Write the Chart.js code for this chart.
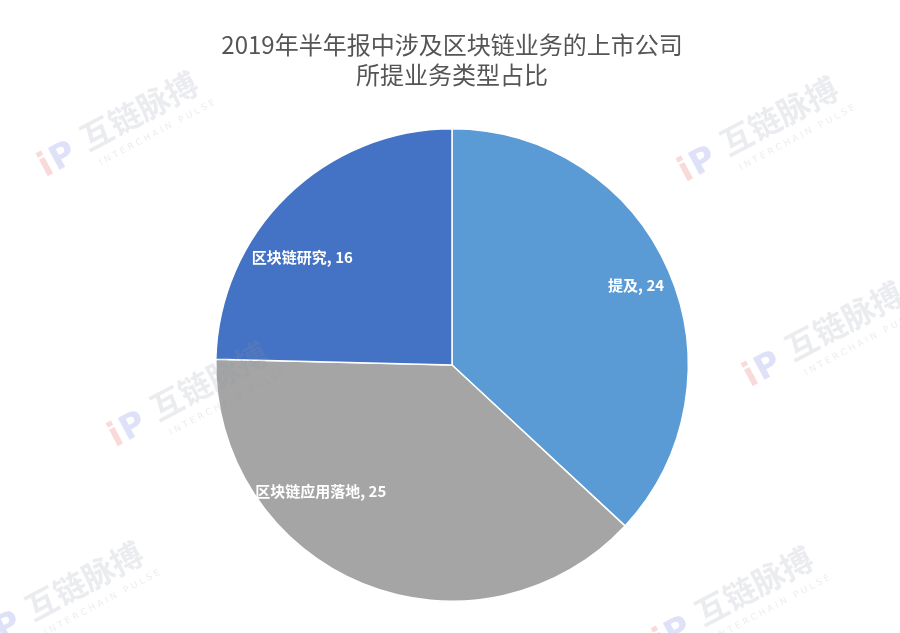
<!DOCTYPE html>
<html>
<head>
<meta charset="utf-8">
<script src="https://cdn.jsdelivr.net/npm/chart.js@4/dist/chart.umd.min.js"></script>
<style>
  html, body { margin: 0; padding: 0; background: #fff; }
  #wrap { width: 900px; height: 633px; }
</style>
</head>
<body>
<div id="wrap"><canvas id="pie"></canvas></div>
<script>
const categories = ["提及", "区块链应用落地", "区块链研究"]
const values = [24, 25, 16]
const sliceColors = ["#5B9BD5", "#A5A5A5", "#4472C4"]

// label placement tweaks (Excel "best fit" look)
const labelShift = [0, 24, -10]
const labelRadius = [0.85, 0.77, 0.78]

// watermark anchor points
const marks = [[125, 125], [765, 130], [830, 335], [195, 395], [70, 595], [740, 600]]

const sliceLabels = {
  id: "sliceLabels",
  afterDatasetsDraw(chart) {
    const ctx = chart.ctx
    const meta = chart.getDatasetMeta(0)
    ctx.save()
    ctx.font = "bold 15px 'Noto Sans CJK SC', sans-serif"
    ctx.fillStyle = "#fff"
    ctx.textAlign = "center"
    ctx.textBaseline = "middle"
    meta.data.forEach((arc, i) => {
      const p = arc.getProps(["x", "y", "startAngle", "endAngle", "outerRadius"], true)
      const a = (p.startAngle + p.endAngle) / 2 + labelShift[i] * Math.PI / 180
      const r = p.outerRadius * labelRadius[i]
      ctx.fillText(categories[i] + ", " + values[i], p.x + Math.cos(a) * r, p.y + Math.sin(a) * r)
    })
    ctx.restore()
  }
}

const watermark = {
  id: "watermark",
  afterDraw(chart) {
    const ctx = chart.ctx
    ctx.save()
    marks.forEach(([x, y]) => {
      ctx.save()
      ctx.translate(x, y)
      ctx.rotate(-28 * Math.PI / 180)
      ctx.globalAlpha = 0.18
      ctx.textBaseline = "middle"
      ctx.font = "bold 34px 'DejaVu Sans', sans-serif"
      ctx.fillStyle = "#e0303a"
      ctx.fillText("i", -95, 0)
      ctx.fillStyle = "#4a5ad0"
      ctx.fillText("P", -82, 0)
      ctx.fillStyle = "#9098a8"
      ctx.font = "bold 32px 'Noto Sans CJK SC', sans-serif"
      ctx.fillText("互链脉搏", -45, -6)
      ctx.font = "9px 'DejaVu Sans', sans-serif"
      ctx.fillText("I N T E R C H A I N   P U L S E", -40, 22)
      ctx.restore()
    })
    ctx.restore()
  }
}

new Chart(document.getElementById("pie"), {
  type: "pie",
  data: {
    labels: categories,
    datasets: [{
      data: values,
      backgroundColor: sliceColors,
      borderColor: "#fff",
      borderWidth: 1.5
    }]
  },
  options: {
    responsive: true,
    maintainAspectRatio: false,
    animation: false,
    layout: { padding: { left: 4, bottom: 31 } },
    plugins: {
      legend: { display: false },
      tooltip: { enabled: false },
      title: {
        display: true,
        text: ["2019年半年报中涉及区块链业务的上市公司", "所提业务类型占比"],
        color: "#555555",
        font: { family: "'Noto Sans CJK SC', sans-serif", size: 24, weight: "normal", lineHeight: 1.25 },
        padding: { top: 30, bottom: 38 }
      }
    }
  },
  plugins: [sliceLabels, watermark]
})
</script>
</body>
</html>
